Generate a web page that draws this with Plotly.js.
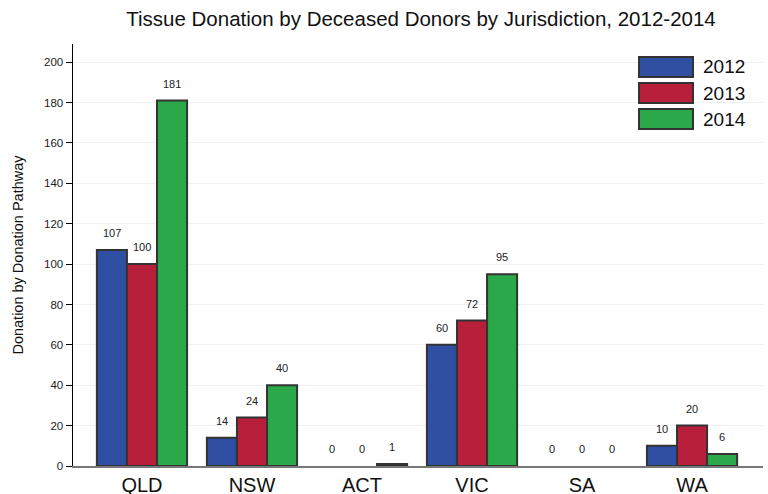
<!DOCTYPE html>
<html>
<head>
<meta charset="utf-8">
<script src="https://cdn.plot.ly/plotly-3.0.1.min.js"></script>
<style>html,body{margin:0;padding:0;background:#fff;}#chart{width:768px;height:494px;}</style>
</head>
<body>
<div id="chart"></div>
<script>
var categories = ["QLD", "NSW", "ACT", "VIC", "SA", "WA"];
var seriesNames = ["2012", "2013", "2014"];
var values2012 = [107, 14, 0, 60, 0, 10];
var values2013 = [100, 24, 0, 72, 0, 20];
var values2014 = [181, 40, 1, 95, 0, 6];
var yTickValues = [0, 20, 40, 60, 80, 100, 120, 140, 160, 180, 200];

var allValues = [values2012, values2013, values2014];
var colors = ["#2f4fa2", "#b81f3a", "#2ba84a"];
var edge = "#333333";
var FONT = "Liberation Sans, Arial, sans-serif";

var traces = allValues.map(function (vals, i) {
  return {
    type: "bar",
    name: seriesNames[i],
    x: categories,
    // zero-height bars are not drawn in the reference
    y: vals.map(function (v) { return v === 0 ? null : v; }),
    marker: { color: colors[i], line: { color: edge, width: 2 } },
    hoverinfo: "x+y+name"
  };
});

var annotations = [];
allValues.forEach(function (vals, i) {
  vals.forEach(function (v, j) {
    annotations.push({
      xref: "x", yref: "y", x: categories[j], y: v,
      xshift: (i - 1) * 30, yshift: 17,
      text: String(v), showarrow: false,
      font: { family: FONT, size: 11, color: "#222222" },
      xanchor: "center", yanchor: "middle"
    });
  });
});

// legend drawn as shapes + text
var shapes = [];
var legTop = 57, legH = 20, legGap = 6;
seriesNames.forEach(function (name, i) {
  var y0 = legTop + i * (legH + legGap);
  shapes.push({
    type: "rect", xref: "paper", yref: "paper",
    x0: (639 - 73) / 690, x1: (693 - 73) / 690,
    y0: (466 - (y0 + legH)) / 422, y1: (466 - y0) / 422,
    fillcolor: colors[i], line: { color: edge, width: 2 }
  });
  annotations.push({
    xref: "paper", yref: "paper",
    x: (701 - 73) / 690, y: (466 - (y0 + legH / 2)) / 422,
    text: name, showarrow: false, xanchor: "left", yanchor: "middle",
    font: { family: FONT, size: 19, color: "#111111" }
  });
});

var layout = {
  width: 768, height: 494,
  margin: { l: 73, r: 5, t: 44, b: 28 },
  paper_bgcolor: "#fff", plot_bgcolor: "#fff",
  font: { family: FONT, color: "#222" },
  title: {
    text: "Tissue Donation by Deceased Donors by Jurisdiction, 2012-2014",
    font: { size: 20.5, color: "#111" },
    x: 421 / 768, xanchor: "center", xref: "container",
    y: 1 - 19 / 494, yanchor: "middle", yref: "container"
  },
  showlegend: false,
  barmode: "group",
  bargap: 0.18,
  bargroupgap: 0,
  xaxis: {
    type: "category",
    range: [-0.627, 5.645],
    showgrid: false,
    showline: true, linecolor: "#777", linewidth: 1.5,
    ticks: "", zeroline: false,
    tickfont: { size: 20, color: "#111" },
    ticklabelstandoff: 0
  },
  yaxis: {
    range: [0, 209],
    tickvals: yTickValues,
    ticktext: yTickValues.map(String),
    showgrid: true, gridcolor: "#edf2f2", gridwidth: 1,
    zeroline: false,
    showline: true, linecolor: "#000", linewidth: 1.5,
    ticks: "outside", ticklen: 6, tickcolor: "#000", tickwidth: 1,
    tickfont: { size: 11.5, color: "#222" },
    title: { text: "Donation by Donation Pathway", font: { size: 14.5, color: "#111" }, standoff: 17 }
  },
  shapes: shapes,
  annotations: annotations
};

Plotly.newPlot("chart", traces, layout, { displayModeBar: false, staticPlot: true });
</script>
</body>
</html>
